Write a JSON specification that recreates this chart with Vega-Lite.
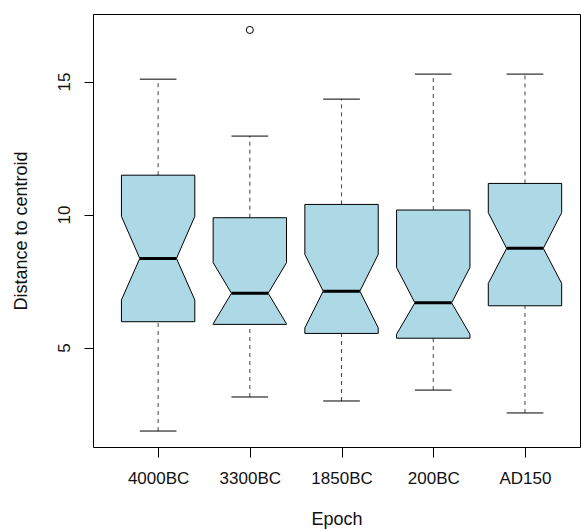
{
  "$schema": "https://vega.github.io/schema/vega-lite/v6.json",
  "width": 487,
  "height": 433,
  "autosize": {"type": "none"},
  "padding": {"left": 93, "top": 14, "right": 1, "bottom": 84},
  "config": {
    "font": "Liberation Sans",
    "view": {"stroke": "black", "strokeWidth": 1},
    "axis": {"grid": false, "domain": false, "tickColor": "black", "labelColor": "#111", "titleColor": "#111", "labelFontSize": 17, "titleFontSize": 18, "titleFontWeight": "normal", "labelFlush": false, "labelOverlap": false}
  },
  "datasets": {
    "stats": [
      {"epoch": "4000BC", "idx": 1, "min": 1.86, "q1": 5.97, "nlo": 6.79, "med": 8.35, "nhi": 9.93, "q3": 11.48, "max": 15.09},
      {"epoch": "3300BC", "idx": 2, "min": 3.14, "q1": 5.87, "nlo": 5.89, "med": 7.04, "nhi": 8.19, "q3": 9.88, "max": 12.95},
      {"epoch": "1850BC", "idx": 3, "min": 2.99, "q1": 5.53, "nlo": 5.74, "med": 7.12, "nhi": 8.50, "q3": 10.38, "max": 14.34},
      {"epoch": "200BC", "idx": 4, "min": 3.40, "q1": 5.50, "nlo": 5.35, "med": 6.68, "nhi": 8.01, "q3": 10.17, "max": 15.28},
      {"epoch": "AD150", "idx": 5, "min": 2.54, "q1": 6.57, "nlo": 7.41, "med": 8.73, "nhi": 10.07, "q3": 11.17, "max": 15.28}
    ],
    "outliers": [
      {"epoch": "3300BC", "idx": 2, "value": 16.94}
    ]
  },
  "data": {"name": "stats"},
  "layer": [
    {
      "mark": {"type": "rule", "strokeDash": [4, 4], "color": "#444", "strokeWidth": 1},
      "encoding": {
        "x": {"field": "idx", "type": "quantitative", "scale": {"domain": [0.29, 5.6], "nice": false, "zero": false},
          "axis": {"values": [1, 2, 3, 4, 5], "labelExpr": "['4000BC','3300BC','1850BC','200BC','AD150'][datum.value-1]", "title": "Epoch", "tickSize": 10, "labelPadding": 13, "titlePadding": 24}},
        "y": {"field": "q3", "type": "quantitative", "scale": {"domain": [1.26, 17.54], "nice": false, "zero": false},
          "axis": {"values": [5, 10, 15], "title": "Distance to centroid", "tickSize": 9, "labelAngle": -90, "labelAlign": "center", "labelBaseline": "bottom", "labelPadding": 11, "titlePadding": 25}},
        "y2": {"field": "max"}
      }
    },
    {
      "mark": {"type": "rule", "strokeDash": [4, 4], "color": "#444", "strokeWidth": 1},
      "encoding": {
        "x": {"field": "idx", "type": "quantitative"},
        "y": {"field": "min", "type": "quantitative"},
        "y2": {"field": "q1"}
      }
    },
    {
      "transform": [
        {"fold": ["min", "max"], "as": ["cap", "capv"]},
        {"calculate": "datum.idx - 0.2", "as": "cl"},
        {"calculate": "datum.idx + 0.2", "as": "cr"}
      ],
      "mark": {"type": "rule", "color": "black", "strokeWidth": 1},
      "encoding": {
        "x": {"field": "cl", "type": "quantitative"},
        "x2": {"field": "cr"},
        "y": {"field": "capv", "type": "quantitative"}
      }
    },
    {
      "transform": [
        {"fold": ["q1", "nlo", "med", "nhi", "q3"], "as": ["stat", "v"]},
        {"calculate": "datum.stat === 'med' ? 0.2 : 0.4", "as": "hw"},
        {"calculate": "datum.idx - datum.hw", "as": "xl"},
        {"calculate": "datum.idx + datum.hw", "as": "xr"}
      ],
      "mark": {"type": "area", "orient": "horizontal", "fill": "#ADD8E6", "stroke": "black", "strokeWidth": 1, "fillOpacity": 1},
      "encoding": {
        "y": {"field": "v", "type": "quantitative"},
        "x": {"field": "xl", "type": "quantitative"},
        "x2": {"field": "xr"},
        "detail": {"field": "epoch"}
      }
    },
    {
      "transform": [
        {"calculate": "datum.idx - 0.2", "as": "ml"},
        {"calculate": "datum.idx + 0.2", "as": "mr"}
      ],
      "mark": {"type": "rule", "color": "black", "strokeWidth": 3},
      "encoding": {
        "x": {"field": "ml", "type": "quantitative"},
        "x2": {"field": "mr"},
        "y": {"field": "med", "type": "quantitative"}
      }
    },
    {
      "data": {"name": "outliers"},
      "mark": {"type": "point", "shape": "circle", "filled": false, "stroke": "black", "strokeWidth": 1, "size": 50, "opacity": 1},
      "encoding": {
        "x": {"field": "idx", "type": "quantitative"},
        "y": {"field": "value", "type": "quantitative"}
      }
    }
  ]
}
